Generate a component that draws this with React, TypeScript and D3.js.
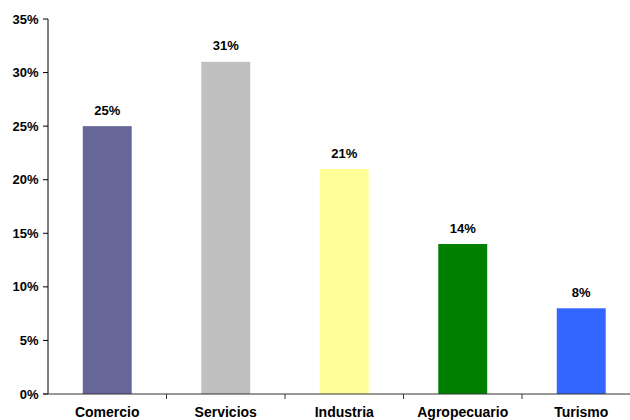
import React from "react";
import * as d3 from "d3";

const categories = ["Comercio", "Servicios", "Industria", "Agropecuario", "Turismo"];
const values = [25, 31, 21, 14, 8];
const colors = ["#666699", "#C0C0C0", "#FFFF99", "#008000", "#3366FF"];
const yTicks = [0, 5, 10, 15, 20, 25, 30, 35];

export default function App() {
  const W = 630, H = 420;
  const x0 = 48, x1 = 640.5, yBottom = 394, yTop = 19;
  const x = d3.scaleBand<string>().domain(categories).range([x0, x1]).padding(0);
  const y = d3.scaleLinear().domain([0, 35]).range([yBottom, yTop]);
  const bw = x.bandwidth() * 0.413;
  const font = "'Liberation Sans', Arial, sans-serif";
  return (
    <svg width={W} height={H} style={{ position: "absolute", left: 0, top: 0 }} fontFamily={font}>
      <rect width={W} height={H} fill="#fff" />
      {categories.map((c, i) => {
        const cx = (x(c) as number) + x.bandwidth() / 2;
        return (
          <g key={c}>
            <rect x={cx - bw / 2} y={y(values[i])} width={bw} height={yBottom - y(values[i])} fill={colors[i]} />
            <text x={cx} y={y(values[i]) - 11.5} textAnchor="middle" fontSize={13} fontWeight="bold" fill="#000">
              {values[i]}%
            </text>
            <text x={cx} y={416.5} textAnchor="middle" fontSize={14} fontWeight="bold" fill="#000">
              {c}
            </text>
          </g>
        );
      })}
      {/* y axis */}
      <line x1={x0} x2={x0} y1={yTop} y2={yBottom} stroke="#000" strokeWidth={1} />
      {yTicks.map((t) => (
        <g key={t}>
          <line x1={x0 - 5} x2={x0} y1={y(t)} y2={y(t)} stroke="#000" />
          <text x={38.5} y={y(t) + 4.5} textAnchor="end" fontSize={13} fontWeight="bold" fill="#000">
            {t}%
          </text>
        </g>
      ))}
      {/* x axis */}
      <line x1={x0 - 5} x2={x1} y1={yBottom} y2={yBottom} stroke="#333" />
      {categories.map((c) => (
        <line key={c} x1={(x(c) as number) + x.bandwidth()} x2={(x(c) as number) + x.bandwidth()} y1={yBottom} y2={yBottom + 5} stroke="#333" />
      ))}
    </svg>
  );
}
